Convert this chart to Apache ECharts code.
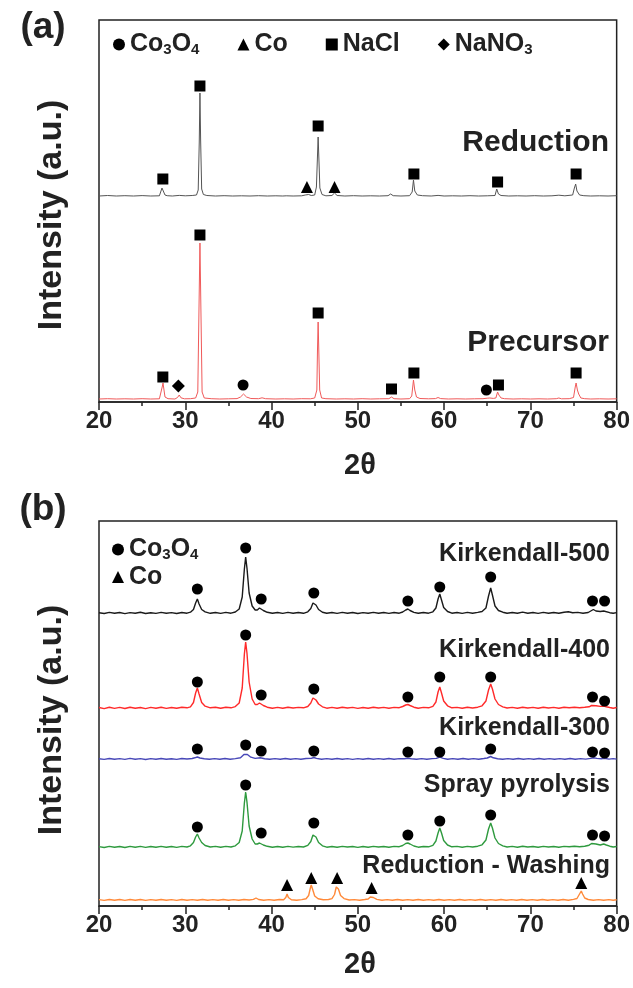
<!DOCTYPE html>
<html><head><meta charset="utf-8">
<script src="https://cdn.jsdelivr.net/npm/echarts@6/dist/echarts.min.js"></script>
<style>html,body{margin:0;padding:0;background:#fff}#c{width:633px;height:988px}</style>
</head><body><div id="c"></div>
<script>
// ---------- DATA (arbitrary intensity units) ----------
const xTicks = [20, 30, 40, 50, 60, 70, 80];

// Panel (a)
const reductionA = [[20,206],[21,206.5],[22,206],[23,206.3],[24,206],[25,206.4],[26,206],[27,206.2],[27.15,207],[27.3,214],[27.4,216],[27.5,213],[27.65,207],[27.9,206.3],[28.5,206],[29.3,206.6],[30,206.2],[30.8,206.5],[31.3,207],[31.5,212],[31.62,260],[31.7,309],[31.78,262],[31.9,213],[32.1,207.5],[32.5,206.5],[33.5,206],[34.5,206.3],[35.5,206],[36.5,206.2],[37.5,206],[38.5,206.3],[39.5,206],[40.5,206.2],[41.3,206],[41.5,207.5],[41.7,206.2],[42.5,206],[43.5,206.2],[43.9,207],[44.1,209],[44.3,207.5],[44.6,206.5],[45.0,207],[45.2,215],[45.3,240],[45.4,265],[45.5,240],[45.6,214],[45.85,207.5],[46.3,206.2],[47.0,206.5],[47.3,209],[47.6,206.5],[48.5,206],[49.5,206.3],[50.5,206],[51.5,206.2],[52.5,206],[53.5,206.3],[53.8,208],[54.1,206.3],[55,206],[56,206.3],[56.3,210],[56.45,222],[56.6,211],[56.9,207],[57.5,206.3],[58.5,206],[59.3,206.6],[60,206],[61,206.2],[62,206],[63,206.3],[64,206],[65,206.2],[65.9,206.5],[66.1,213],[66.3,208],[66.6,206.5],[67.5,206],[68.5,206.2],[69.5,206],[70.5,206.3],[71.5,206],[72.5,206.2],[73.3,206.8],[74,206.2],[74.9,207],[75.1,214],[75.25,218],[75.4,211],[75.7,207],[76.2,206.3],[77,206],[78,206.2],[79,206],[80,206.3]];
const precursorA = [[20,3],[21,3.3],[22,3],[23,3.2],[24,3],[25,3.3],[26,3],[27,3.2],[27.2,5],[27.35,16],[27.42,19],[27.5,14],[27.65,5],[28,3.3],[28.8,3],[29.1,4.5],[29.3,7],[29.5,4.2],[29.9,3.2],[30.6,3.3],[31.2,4],[31.45,10],[31.6,100],[31.7,159],[31.8,100],[31.95,10],[32.2,4],[33,3.3],[34,3],[35,3.2],[36,3.4],[36.4,5],[36.75,8],[37.1,5],[37.6,3.5],[38.5,3.3],[38.9,4.2],[39.3,3.3],[40.5,3],[41.5,3.2],[42.5,3],[43.5,3.3],[44.5,3.2],[45.0,4],[45.25,12],[45.32,50],[45.4,80],[45.48,50],[45.58,12],[45.8,4],[46.3,3.3],[47.5,3],[48.5,3.2],[49.5,3],[50.5,3.3],[51.5,3],[52.5,3.2],[53.6,3.3],[53.9,5],[54.2,3.3],[55,3],[56,3.3],[56.25,6],[56.45,22],[56.6,12],[56.8,5],[57.2,3.5],[58.2,3.2],[59.0,3.4],[59.3,4.5],[59.6,3.4],[60.5,3],[61.5,3.2],[62.5,3],[63.5,3.2],[64.5,3.3],[65.0,3.8],[65.3,4],[65.7,3.6],[66.0,4],[66.2,10],[66.35,7],[66.6,4],[67,3.3],[68,3],[69,3.2],[70,3],[71,3.2],[72,3],[73,3.3],[73.3,4],[73.6,3.2],[74.5,3.3],[75.0,4.5],[75.2,15],[75.3,19],[75.45,12],[75.6,8],[75.85,4],[76.3,3.3],[77,3],[78,3.2],[79,3],[80,3.2]];
const naclMarksA = [[27.4,223],[31.7,316],[45.4,276],[56.5,228],[66.2,220],[75.3,228],[27.4,25],[31.7,167],[45.4,89],[53.9,13],[56.5,29],[66.3,17],[75.3,29]];
const coMarksA = [[44.1,215],[47.3,215]];
const co3o4MarksA = [[36.7,17],[64.9,12]];
const nano3MarksA = [[29.2,16]];

// Panel (b) — relative intensities, stacked by baseline offsets
const seriesNamesB = ['Kirkendall-500','Kirkendall-400','Kirkendall-300','Spray pyrolysis','Reduction - Washing'];
const offsetsB = [293, 198, 147, 59, 6];
const k500 = [[20,0.3],[20.6,-0.5],[21.2,0.6],[21.8,-0.3],[22.4,0.5],[23,-0.6],[23.6,0.4],[24.2,-0.2],[24.8,0.7],[25.4,-0.5],[26,0.3],[26.6,-0.4],[27.2,0.6],[27.8,-0.3],[28.4,0.4],[29,-0.5],[29.6,0.5],[30.2,-0.2],[30.6,0.8],[30.95,3.5],[31.2,10],[31.4,14],[31.6,9],[31.9,3.5],[32.3,1.2],[32.9,-0.3],[33.5,0.5],[34.1,-0.4],[34.7,0.6],[35.3,-0.2],[35.8,1],[36.25,4],[36.6,16],[36.85,44],[37.0,56],[37.15,45],[37.4,20],[37.75,7],[38.1,3],[38.35,3],[38.6,5],[38.8,5],[39.05,2.5],[39.5,0.7],[40.1,-0.3],[40.7,0.5],[41.3,-0.4],[41.9,0.6],[42.5,-0.2],[43.1,0.5],[43.7,-0.3],[44.2,1.2],[44.55,4.5],[44.8,10],[44.95,11],[45.15,8],[45.45,3.5],[45.9,0.8],[46.4,-0.3],[47,0.5],[47.6,-0.4],[48.2,0.6],[48.8,-0.2],[49.4,0.5],[50,-0.5],[50.6,0.4],[51.2,-0.3],[51.8,0.6],[52.4,-0.2],[53,0.5],[53.6,-0.4],[54.2,0.5],[54.8,-0.2],[55.2,1],[55.55,3],[55.8,4],[56.05,2.5],[56.5,0.6],[57,-0.3],[57.6,0.5],[58.2,-0.2],[58.7,1.2],[59.05,5],[59.3,14],[59.5,19],[59.7,13],[59.95,5.5],[60.4,1.5],[60.9,-0.2],[61.5,0.5],[62.1,-0.4],[62.7,0.6],[63.3,-0.2],[63.9,0.6],[64.4,1.5],[64.85,5],[65.15,17],[65.4,25],[65.6,18],[65.9,7],[66.3,2.5],[66.8,0.8],[67.3,-0.2],[67.9,0.5],[68.5,-0.3],[69.1,0.9],[69.7,-0.2],[70.3,0.5],[70.9,-0.4],[71.5,0.6],[72.1,-0.2],[72.7,0.5],[73.3,-0.3],[73.9,0.8],[74.4,1.2],[74.9,0.2],[75.5,0.6],[76.1,-0.2],[76.7,0.5],[77.0,2],[77.3,3.5],[77.6,2],[78.1,1.5],[78.5,2],[78.7,1.5],[79.2,0.3],[79.6,-0.3],[80,0.4]];
const k400 = [[20,0.5],[20.6,-0.6],[21.2,0.7],[21.8,-0.4],[22.4,0.6],[23,-0.5],[23.6,0.8],[24.2,-0.3],[24.8,0.5],[25.4,-0.6],[26,0.6],[26.6,-0.2],[27.2,0.7],[27.8,-0.4],[28.4,0.5],[29,-0.3],[29.6,0.7],[30.2,0.2],[30.6,1.2],[30.95,5.5],[31.2,15],[31.4,20],[31.6,14],[31.9,5.5],[32.3,1.8],[32.9,0.2],[33.5,0.7],[34.1,-0.3],[34.7,0.8],[35.3,0.2],[35.8,1.4],[36.25,5],[36.6,20],[36.85,54],[37.0,66],[37.15,55],[37.4,26],[37.75,9],[38.1,3.5],[38.35,3.5],[38.6,5],[38.8,4.5],[39.05,2.5],[39.5,0.8],[40.1,-0.2],[40.7,0.6],[41.3,-0.3],[41.9,0.7],[42.5,0],[43.1,0.6],[43.7,0.2],[44.2,1.5],[44.55,5],[44.8,10],[44.95,11],[45.15,8],[45.45,4],[45.9,1.2],[46.4,-0.2],[47,0.6],[47.6,-0.3],[48.2,0.7],[48.8,0],[49.4,0.6],[50,-0.4],[50.6,0.5],[51.2,-0.2],[51.8,0.7],[52.4,0],[53,0.6],[53.6,-0.3],[54.2,0.6],[54.8,0.3],[55.2,1.5],[55.55,3],[55.8,3.5],[56.05,2.5],[56.5,0.8],[57,-0.2],[57.6,0.6],[58.2,0.2],[58.7,1.6],[59.05,6],[59.3,16],[59.5,21],[59.7,15],[59.95,7],[60.4,2.2],[60.9,0.2],[61.5,0.6],[62.1,-0.3],[62.7,0.7],[63.3,0],[63.9,0.8],[64.4,2.2],[64.85,7],[65.15,18],[65.4,24],[65.6,19],[65.9,9],[66.3,3.5],[66.8,1.2],[67.3,0],[67.9,0.6],[68.5,-0.2],[69.1,0.7],[69.7,0],[70.3,0.6],[70.9,-0.3],[71.5,0.7],[72.1,0],[72.7,0.6],[73.3,-0.2],[73.9,0.7],[74.5,0.3],[75.1,0.8],[75.7,0.2],[76.3,0.7],[76.8,1.2],[77.1,2.5],[77.3,3],[77.6,2.2],[78.1,1.6],[78.5,2],[78.8,1.3],[79.2,0.5],[79.6,-0.2],[80,0.5]];
const k300 = [[20,0.3],[20.6,-0.4],[21.2,0.5],[21.8,-0.3],[22.4,0.4],[23,-0.4],[23.6,0.6],[24.2,-0.2],[24.8,0.4],[25.4,-0.5],[26,0.4],[26.6,-0.2],[27.2,0.5],[27.8,-0.3],[28.4,0.3],[29,-0.4],[29.6,0.5],[30.2,0],[30.8,0.5],[31.1,1.2],[31.4,2],[31.7,1],[32.2,0.2],[32.8,-0.3],[33.4,0.4],[34,-0.2],[34.6,0.5],[35.2,-0.3],[35.8,0.4],[36.4,1.2],[36.8,4.5],[37.0,6],[37.2,4.5],[37.6,1.8],[38.1,0.6],[38.7,1.2],[39.2,0.3],[39.8,-0.3],[40.4,0.4],[41,-0.2],[41.6,0.5],[42.2,-0.3],[42.8,0.4],[43.4,-0.2],[44,0.5],[44.6,0.6],[44.9,1.5],[45.2,0.6],[45.8,-0.2],[46.4,0.4],[47,-0.3],[47.6,0.5],[48.2,-0.2],[48.8,0.4],[49.4,-0.4],[50,0.4],[50.6,-0.2],[51.2,0.5],[51.8,-0.3],[52.4,0.4],[53,-0.2],[53.6,0.5],[54.2,-0.3],[54.8,0.4],[55.4,0.3],[55.8,0.8],[56.2,0.2],[56.8,-0.2],[57.4,0.4],[58,-0.3],[58.6,0.4],[59.1,0.6],[59.5,1.8],[59.9,0.6],[60.4,-0.2],[61,0.4],[61.6,-0.3],[62.2,0.5],[62.8,-0.2],[63.4,0.4],[64,-0.2],[64.6,0.5],[65.0,1],[65.4,2.5],[65.7,1.2],[66.2,0.3],[66.8,-0.2],[67.4,0.4],[68,-0.3],[68.6,0.5],[69.2,-0.2],[69.8,0.4],[70.4,-0.3],[71,0.5],[71.6,-0.2],[72.2,0.4],[72.8,-0.3],[73.4,0.4],[74,-0.2],[74.6,0.5],[75.2,-0.2],[75.8,0.4],[76.4,-0.1],[77,0.6],[77.3,1.2],[77.7,0.6],[78.2,0.2],[78.6,0.8],[79.1,-0.1],[79.6,0.4],[80,-0.1]];
const spray = [[20,0.4],[20.6,-0.5],[21.2,0.6],[21.8,-0.3],[22.4,0.5],[23,-0.5],[23.6,0.6],[24.2,-0.2],[24.8,0.6],[25.4,-0.4],[26,0.5],[26.6,-0.3],[27.2,0.6],[27.8,-0.3],[28.4,0.5],[29,-0.4],[29.6,0.6],[30.2,0],[30.6,1.2],[30.95,4.5],[31.2,10],[31.4,13],[31.6,9],[31.9,4.5],[32.3,1.5],[32.9,0],[33.5,0.6],[34.1,-0.3],[34.7,0.6],[35.3,0],[35.8,1.2],[36.25,4.5],[36.6,16],[36.85,44],[37.0,55],[37.15,45],[37.4,21],[37.75,8],[38.1,3],[38.35,3],[38.6,4],[38.8,3.5],[39.05,2],[39.5,0.7],[40.1,-0.2],[40.7,0.5],[41.3,-0.3],[41.9,0.6],[42.5,-0.1],[43.1,0.5],[43.7,0],[44.2,1.6],[44.55,5.5],[44.8,12],[44.95,14],[45.15,10],[45.45,4.5],[45.9,1.2],[46.4,-0.2],[47,0.5],[47.6,-0.3],[48.2,0.6],[48.8,0],[49.4,0.5],[50,-0.4],[50.6,0.5],[51.2,-0.2],[51.8,0.6],[52.4,0],[53,0.5],[53.6,-0.3],[54.2,0.6],[54.8,0.3],[55.2,1.5],[55.55,3.5],[55.8,4],[56.05,3],[56.5,1],[57,-0.2],[57.6,0.5],[58.2,0.2],[58.7,1.6],[59.05,6],[59.3,14],[59.5,19],[59.7,14],[59.95,6.5],[60.4,2],[60.9,0.2],[61.5,0.6],[62.1,-0.3],[62.7,0.6],[63.3,0],[63.9,0.8],[64.4,2.2],[64.85,7],[65.15,18],[65.4,24],[65.6,19],[65.9,9],[66.3,3.5],[66.8,1.2],[67.3,0],[67.9,0.6],[68.5,-0.2],[69.1,0.8],[69.7,0],[70.3,0.5],[70.9,-0.3],[71.5,0.6],[72.1,0],[72.7,0.5],[73.3,-0.2],[73.9,0.6],[74.5,0.2],[75.1,0.8],[75.7,0.2],[76.3,0.8],[76.8,1.8],[77.1,3.5],[77.3,4],[77.6,3],[78.1,2],[78.5,3],[78.8,2],[79.2,0.8],[79.6,0],[80,0.5]];
const redWash = [[20,0.4],[20.6,-0.4],[21.2,0.5],[21.8,-0.3],[22.4,0.5],[23,-0.4],[23.6,0.5],[24.2,-0.2],[24.8,0.5],[25.4,-0.4],[26,0.4],[26.6,-0.3],[27.2,0.5],[27.8,-0.2],[28.4,0.4],[29,-0.4],[29.6,0.5],[30.2,-0.2],[30.8,0.4],[31.4,-0.3],[32,0.5],[32.6,-0.2],[33.2,0.4],[33.8,-0.3],[34.4,0.5],[35,-0.2],[35.6,0.4],[36.2,-0.3],[36.8,0.5],[37.4,0],[37.9,0.6],[38.2,2],[38.5,0.5],[39.1,-0.2],[39.7,0.4],[40.3,-0.3],[40.9,0.5],[41.4,0.2],[41.65,2.5],[41.8,6],[41.95,2.5],[42.3,0.3],[42.9,-0.2],[43.5,0.4],[44.0,1.2],[44.3,4.5],[44.5,12],[44.6,15],[44.75,11],[45.0,4],[45.4,1.2],[46.0,0.2],[46.6,0.5],[47.0,1.4],[47.3,5.5],[47.5,13],[47.6,15],[47.75,11],[48.0,4.5],[48.4,1.4],[49,0],[49.6,0.4],[50.2,-0.2],[50.8,0.5],[51.2,1],[51.45,3],[51.6,4],[51.8,2.5],[52.2,0.6],[52.8,-0.2],[53.4,0.4],[54,-0.3],[54.6,0.5],[55.2,-0.2],[55.8,0.4],[56.4,-0.3],[57,0.5],[57.6,-0.2],[58.2,0.4],[58.8,-0.3],[59.4,0.5],[60,-0.2],[60.6,0.4],[61.2,-0.3],[61.8,0.5],[62.4,-0.2],[63,0.4],[63.6,-0.3],[64.2,0.5],[64.8,-0.2],[65.4,0.4],[66,-0.3],[66.6,0.5],[67.2,-0.2],[67.8,0.4],[68.4,-0.3],[69,0.5],[69.6,-0.2],[70.2,0.4],[70.8,-0.3],[71.4,0.5],[72,-0.2],[72.6,0.4],[73.2,-0.3],[73.8,0.5],[74.4,-0.2],[75.0,0.6],[75.4,1.5],[75.7,6],[75.9,9],[76.05,6],[76.3,2],[76.7,0.5],[77.3,-0.2],[77.9,0.4],[78.5,-0.3],[79.1,0.4],[79.6,-0.2],[80,0.3]];
const co3o4MarksB = [[31.4,317],[37.0,358],[38.8,307],[44.9,313],[55.8,305],[59.5,319],[65.4,329],[77.2,305],[78.6,305],
  [31.4,224],[37.0,271],[38.8,211],[44.9,217],[55.8,209],[59.5,229],[65.4,229],[77.2,209],[78.6,205],
  [31.4,157],[37.0,161],[38.8,155],[44.9,155],[55.8,154],[59.5,154],[65.4,157],[77.2,154],[78.6,153],
  [31.4,79],[37.0,121],[38.8,73],[44.9,83],[55.8,71],[59.5,85],[65.4,91],[77.2,71],[78.6,70]];
const coMarksB = [[41.8,21],[44.6,28],[47.6,28],[51.6,18],[75.9,23]];

// ---------- CHART ----------
const FONT = '"Liberation Sans", Arial, Helvetica, sans-serif';
const INK = '#222';
const colorsB = ['#1a1a1a', '#ff2a2a', '#4848b8', '#2e9a3e', '#ff8a3a'];
const linesB = [k500, k400, k300, spray, redWash];

function xAxis(gi) {
  return {
    gridIndex: gi, type: 'value', min: xTicks[0], max: xTicks[xTicks.length - 1], interval: 10,
    axisLine: {show: true, onZero: false, lineStyle: {color: INK, width: 1.5}},
    axisTick: {show: true, length: 8, lineStyle: {color: INK, width: 1.5}},
    minorTick: {show: true, splitNumber: 2, length: 4, lineStyle: {color: INK, width: 1.5}},
    axisLabel: {fontSize: 24, fontWeight: 'bold', color: INK, margin: 7, fontFamily: FONT},
    splitLine: {show: false}
  };
}
function yAxis(gi, max) {
  return {gridIndex: gi, type: 'value', min: 0, max: max, show: false};
}
function marks(name, data, symbol, size, gi) {
  return {type: 'scatter', name: name, xAxisIndex: gi, yAxisIndex: gi, data: data, symbol: symbol,
    symbolSize: size, itemStyle: {color: '#000', opacity: 1}, z: 5, silent: true};
}
const rich = {
  t: {fontSize: 25, fontWeight: 'bold', color: INK, fontFamily: FONT, lineHeight: 26},
  s: {fontSize: 15, fontWeight: 'bold', color: INK, fontFamily: FONT, lineHeight: 15, verticalAlign: 'bottom'}
};
function legendFmt(name) {
  if (name === 'Co3O4') return '{t|Co}{s|3}{t|O}{s|4}';
  if (name === 'NaNO3') return '{t|NaNO}{s|3}';
  return '{t|' + name + '}';
}

const series = [
  {type: 'line', name: 'Reduction', xAxisIndex: 0, yAxisIndex: 0, data: reductionA, showSymbol: false,
    lineStyle: {color: '#555', width: 1}, silent: true},
  {type: 'line', name: 'Precursor', xAxisIndex: 0, yAxisIndex: 0, data: precursorA, showSymbol: false,
    lineStyle: {color: '#f05a5a', width: 1}, silent: true},
  marks('NaCl', naclMarksA, 'rect', 11, 0),
  marks('Co', coMarksA, 'triangle', 12, 0),
  marks('Co3O4', co3o4MarksA, 'circle', 11, 0),
  marks('NaNO3', nano3MarksA, 'diamond', 13, 0)
];
linesB.forEach((arr, i) => {
  series.push({type: 'line', name: seriesNamesB[i], xAxisIndex: 1, yAxisIndex: 1,
    data: arr.map(p => [p[0], p[1] + offsetsB[i]]), showSymbol: false,
    lineStyle: {color: colorsB[i], width: 1.4}, silent: true});
});
series.push(marks('Co3O4', co3o4MarksB, 'circle', 11, 1));
series.push(marks('Co', coMarksB, 'triangle', 12, 1));

function txt(s, x, y, size, align, rot) {
  return {type: 'text', x: x, y: y, rotation: rot || 0, silent: true, z: 10,
    style: {text: s, x: 0, y: 0, fill: INK, align: align || 'center', verticalAlign: 'middle',
      font: 'bold ' + size + 'px ' + FONT}};
}

const option = {
  animation: false,
  backgroundColor: '#fff',
  grid: [
    {left: 99, right: 14, top: 20, height: 382, show: true, borderColor: INK, borderWidth: 1.5},
    {left: 99, right: 14, top: 521, height: 385, show: true, borderColor: INK, borderWidth: 1.5}
  ],
  xAxis: [xAxis(0), xAxis(1)],
  yAxis: [yAxis(0, 382), yAxis(1, 385)],
  legend: [
    {data: ['Co3O4', 'Co', 'NaCl', 'NaNO3'], left: 108, top: 27, orient: 'horizontal', itemGap: 38,
      itemWidth: 12, itemHeight: 12, selectedMode: false, formatter: legendFmt, textStyle: {rich: rich}},
    {data: ['Co3O4', 'Co'], left: 107, top: 532, orient: 'vertical', itemGap: 2,
      itemWidth: 12, itemHeight: 12, selectedMode: false, formatter: legendFmt, textStyle: {rich: rich}}
  ],
  series: series,
  graphic: [
    txt('(a)', 43, 28, 37),
    txt('(b)', 43, 510, 37),
    txt('Intensity (a.u.)', 52, 215, 34, 'center', Math.PI / 2),
    txt('Intensity (a.u.)', 52, 720, 34, 'center', Math.PI / 2),
    txt('2\u03b8', 360, 466, 29),
    txt('2\u03b8', 360, 965, 29),
    txt('Reduction', 609, 143, 30, 'right'),
    txt('Precursor', 609, 343, 30, 'right'),
    txt('Kirkendall-500', 610, 554, 25, 'right'),
    txt('Kirkendall-400', 610, 650, 25, 'right'),
    txt('Kirkendall-300', 610, 728, 25, 'right'),
    txt('Spray pyrolysis', 610, 785, 25, 'right'),
    txt('Reduction - Washing', 610, 866, 25, 'right')
  ]
};
const chart = echarts.init(document.getElementById('c'), null, {renderer: 'canvas'});
chart.setOption(option);
</script>
</body></html>
